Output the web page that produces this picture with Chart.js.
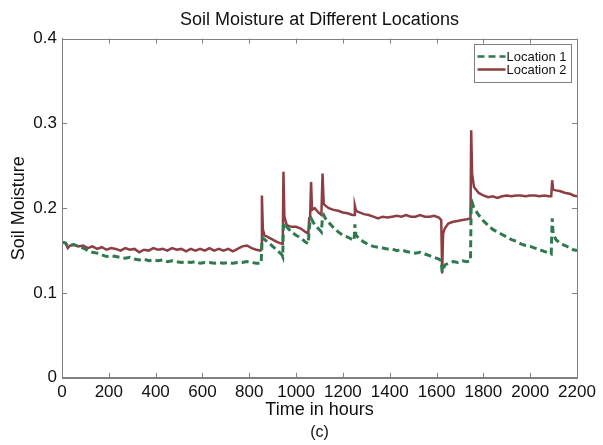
<!DOCTYPE html>
<html>
<head>
<meta charset="utf-8">
<script src="https://cdn.jsdelivr.net/npm/chart.js@4/dist/chart.umd.min.js"></script>
<style>
  html, body { margin: 0; padding: 0; background: #fff; }
  #wrap { width: 603px; height: 445px; }
</style>
</head>
<body>
<div id="wrap"><canvas id="chart"></canvas></div>
<script>
// hours and soil moisture values
const hours = [0, 15, 25, 35, 50, 70, 90, 110, 130, 150, 170, 190, 210, 230, 250, 270, 290, 310, 330, 350,
  370, 390, 410, 430, 450, 470, 490, 510, 530, 550, 570, 590, 610, 630, 650, 670, 690, 710, 730, 750,
  770, 790, 810, 830, 848, 851, 854, 858, 865, 880, 900, 920, 940, 943, 946, 950, 960, 980, 1000, 1020,
  1040, 1052, 1056, 1060, 1064, 1068, 1080, 1095, 1108, 1113, 1118, 1125, 1140, 1160, 1180, 1200, 1220, 1240, 1248, 1251,
  1256, 1270, 1290, 1310, 1330, 1350, 1370, 1390, 1410, 1430, 1450, 1470, 1490, 1510, 1530, 1550, 1570, 1590, 1610, 1620,
  1624, 1628, 1635, 1650, 1670, 1690, 1710, 1730, 1745, 1748, 1752, 1760, 1780, 1800, 1820, 1840, 1860, 1880, 1900, 1920,
  1940, 1960, 1980, 2000, 2020, 2040, 2060, 2080, 2090, 2094, 2098, 2110, 2130, 2150, 2170, 2185, 2200];

const location1 = [0.160, 0.159, 0.155, 0.156, 0.157, 0.155, 0.153, 0.150, 0.148, 0.147, 0.145, 0.143, 0.144, 0.143, 0.142, 0.141, 0.142, 0.140, 0.139, 0.140,
  0.138, 0.139, 0.138, 0.139, 0.137, 0.138, 0.137, 0.136, 0.137, 0.136, 0.137, 0.135, 0.136, 0.136, 0.135, 0.136, 0.135, 0.136, 0.135, 0.136,
  0.136, 0.137, 0.136, 0.135, 0.135, 0.135, 0.163, 0.165, 0.163, 0.160, 0.155, 0.150, 0.145, 0.143, 0.180, 0.183, 0.178, 0.172, 0.168, 0.165,
  0.160, 0.158, 0.175, 0.185, 0.188, 0.186, 0.180, 0.176, 0.172, 0.190, 0.192, 0.188, 0.183, 0.177, 0.172, 0.168, 0.166, 0.163, 0.162, 0.181,
  0.168, 0.164, 0.160, 0.157, 0.155, 0.154, 0.153, 0.152, 0.152, 0.150, 0.151, 0.149, 0.148, 0.147, 0.148, 0.146, 0.144, 0.142, 0.140, 0.138,
  0.125, 0.127, 0.133, 0.135, 0.137, 0.136, 0.138, 0.137, 0.138, 0.205, 0.207, 0.200, 0.192, 0.185, 0.180, 0.175, 0.172, 0.169, 0.166, 0.163,
  0.161, 0.158, 0.156, 0.155, 0.153, 0.151, 0.149, 0.147, 0.146, 0.188, 0.170, 0.163, 0.158, 0.156, 0.153, 0.151, 0.150];

const location2 = [0.160, 0.159, 0.153, 0.156, 0.157, 0.155, 0.156, 0.153, 0.155, 0.152, 0.154, 0.151, 0.153, 0.152, 0.150, 0.153, 0.151, 0.152, 0.148, 0.151,
  0.150, 0.153, 0.151, 0.152, 0.150, 0.153, 0.151, 0.152, 0.149, 0.152, 0.150, 0.152, 0.150, 0.153, 0.150, 0.152, 0.150, 0.152, 0.149, 0.152,
  0.155, 0.156, 0.153, 0.151, 0.150, 0.152, 0.215, 0.175, 0.168, 0.166, 0.163, 0.160, 0.158, 0.160, 0.243, 0.190, 0.180, 0.178, 0.178, 0.176,
  0.172, 0.170, 0.188, 0.190, 0.231, 0.198, 0.200, 0.195, 0.192, 0.241, 0.205, 0.203, 0.200, 0.198, 0.197, 0.195, 0.194, 0.192, 0.192, 0.203,
  0.197, 0.195, 0.193, 0.192, 0.190, 0.188, 0.190, 0.189, 0.190, 0.191, 0.190, 0.192, 0.190, 0.190, 0.192, 0.190, 0.190, 0.191, 0.189, 0.186,
  0.123, 0.170, 0.176, 0.182, 0.184, 0.185, 0.186, 0.187, 0.188, 0.292, 0.240, 0.225, 0.218, 0.215, 0.213, 0.214, 0.212, 0.214, 0.215, 0.214,
  0.215, 0.215, 0.214, 0.215, 0.215, 0.214, 0.215, 0.214, 0.214, 0.233, 0.222, 0.221, 0.220, 0.218, 0.217, 0.215, 0.214];

const xTicks = [0, 200, 400, 600, 800, 1000, 1200, 1400, 1600, 1800, 2000, 2200];
const yTicks = [0, 0.1, 0.2, 0.3, 0.4];

const green = "#2e7a4e";
const red = "#8e3e42";
const fontFam = "'Liberation Sans', Arial, Helvetica, sans-serif";

// box round the plot, inward tick marks and the legend, matlab style
const matlabBox = {
  id: "matlabBox",
  afterDraw(chart) {
    const ctx = chart.ctx;
    const a = chart.chartArea;
    const sx = chart.scales.x, sy = chart.scales.y;
    ctx.save();
    ctx.strokeStyle = "#808080";
    ctx.lineWidth = 1;
    ctx.strokeRect(Math.round(a.left) + 0.5, Math.round(a.top) + 0.5, Math.round(a.right - a.left), Math.round(a.bottom - a.top));
    ctx.beginPath();
    xTicks.forEach(v => {
      const px = Math.round(sx.getPixelForValue(v)) + 0.5;
      ctx.moveTo(px, a.bottom); ctx.lineTo(px, a.bottom - 5);
      ctx.moveTo(px, a.top); ctx.lineTo(px, a.top + 5);
    });
    yTicks.forEach(v => {
      const py = Math.round(sy.getPixelForValue(v)) + 0.5;
      ctx.moveTo(a.left, py); ctx.lineTo(a.left + 5, py);
      ctx.moveTo(a.right, py); ctx.lineTo(a.right - 5, py);
    });
    ctx.stroke();

    // legend
    const bx = Math.round(a.right) - 102.5, by = Math.round(a.top) + 5.5, bw = 97, bh = 38;
    ctx.fillStyle = "#fff";
    ctx.fillRect(bx, by, bw, bh);
    ctx.strokeStyle = "#808080";
    ctx.strokeRect(bx, by, bw, bh);
    ctx.font = "13px " + fontFam;
    ctx.textBaseline = "middle";
    ctx.fillStyle = "#111";
    chart.data.datasets.forEach((ds, i) => {
      const ly = by + 12 + i * 13;
      ctx.beginPath();
      ctx.strokeStyle = ds.borderColor;
      ctx.lineWidth = 2.5;
      ctx.setLineDash(ds.borderDash || []);
      ctx.moveTo(bx + 3, ly); ctx.lineTo(bx + 31, ly);
      ctx.stroke();
      ctx.setLineDash([]);
      ctx.fillText(ds.label, bx + 32, ly + 1);
    });
    ctx.restore();
  }
};

new Chart(document.getElementById("chart"), {
  type: "line",
  data: {
    datasets: [{
      label: "Location 1",
      data: hours.map((h, i) => ({ x: h, y: location1[i] })),
      borderColor: green,
      borderWidth: 3,
      borderDash: [7, 4],
      pointRadius: 0,
      fill: false
    }, {
      label: "Location 2",
      data: hours.map((h, i) => ({ x: h, y: location2[i] })),
      borderColor: red,
      borderWidth: 2.5,
      pointRadius: 0,
      fill: false
    }]
  },
  options: {
    responsive: true,
    maintainAspectRatio: false,
    animation: false,
    layout: { padding: { left: 0, right: 26, top: 0, bottom: 0 } },
    plugins: {
      legend: { display: false },
      tooltip: { enabled: false },
      title: {
        display: true,
        fullSize: false,
        text: "Soil Moisture at Different Locations",
        color: "#111",
        font: { family: fontFam, size: 18, weight: "normal" },
        padding: { top: 9, bottom: 8 }
      },
      subtitle: {
        display: true,
        position: "bottom",
        fullSize: false,
        text: "(c)",
        color: "#111",
        font: { family: fontFam, size: 16, weight: "normal" },
        padding: { top: 2, bottom: 3 }
      }
    },
    scales: {
      x: {
        type: "linear",
        min: 0,
        max: 2200,
        afterFit: s => { s.height = 43; },
        afterBuildTicks: s => { s.ticks = xTicks.map(v => ({ value: v })); },
        grid: { display: false, drawTicks: false },
        border: { color: "#808080" },
        ticks: { color: "#111", padding: 4, maxRotation: 0, autoSkip: false, callback: v => String(v), font: { family: fontFam, size: 17 } },
        title: { display: true, text: "Time in hours", color: "#111", padding: { top: 0, bottom: 0 }, font: { family: fontFam, size: 18 } }
      },
      y: {
        min: 0,
        max: 0.4,
        afterFit: s => { s.width = 62; },
        afterBuildTicks: s => { s.ticks = yTicks.map(v => ({ value: v })); },
        grid: { display: false, drawTicks: false },
        border: { color: "#808080" },
        ticks: { color: "#111", padding: 5, font: { family: fontFam, size: 17 } },
        title: { display: true, text: "Soil Moisture", color: "#111", padding: { top: 8, bottom: 0 }, font: { family: fontFam, size: 18 } }
      }
    }
  },
  plugins: [matlabBox]
});
</script>
</body>
</html>
